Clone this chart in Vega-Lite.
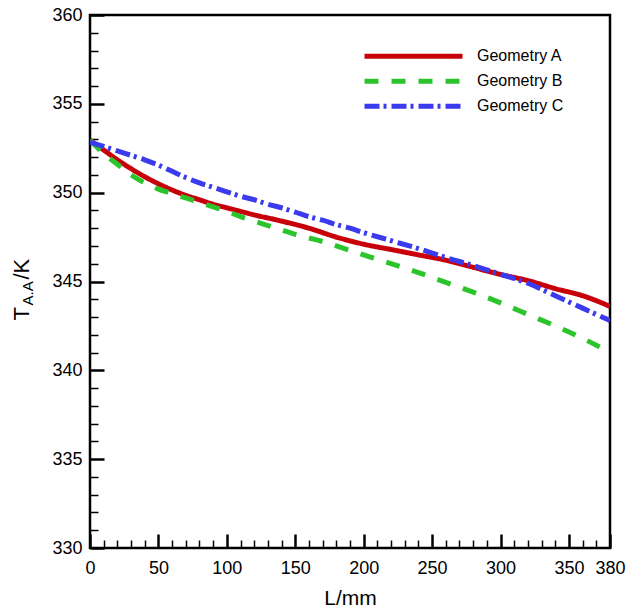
{
  "$schema": "https://vega.github.io/schema/vega-lite/v6.json",
  "width": 520,
  "height": 533,
  "autosize": "none",
  "padding": {"left": 90, "top": 15, "right": 18, "bottom": 64},
  "background": "white",
  "config": {
    "font": "Liberation Sans",
    "view": {"stroke": "black", "strokeWidth": 2.5},
    "axis": {"grid": false, "domain": false, "labelColor": "black", "titleColor": "black", "tickColor": "black", "titleFontWeight": "normal", "labelFlush": false},
    "legend": {"labelFontSize": 16, "labelColor": "black", "labelFont": "Liberation Sans"}
  },
  "datasets": {
    "temps": [
      {"L": 0, "T": 352.95, "geometry": "Geometry A"},
      {"L": 10, "T": 352.4, "geometry": "Geometry A"},
      {"L": 20, "T": 351.85, "geometry": "Geometry A"},
      {"L": 30, "T": 351.35, "geometry": "Geometry A"},
      {"L": 40, "T": 350.9, "geometry": "Geometry A"},
      {"L": 50, "T": 350.5, "geometry": "Geometry A"},
      {"L": 60, "T": 350.15, "geometry": "Geometry A"},
      {"L": 70, "T": 349.85, "geometry": "Geometry A"},
      {"L": 80, "T": 349.6, "geometry": "Geometry A"},
      {"L": 90, "T": 349.35, "geometry": "Geometry A"},
      {"L": 100, "T": 349.15, "geometry": "Geometry A"},
      {"L": 120, "T": 348.75, "geometry": "Geometry A"},
      {"L": 140, "T": 348.4, "geometry": "Geometry A"},
      {"L": 160, "T": 348.0, "geometry": "Geometry A"},
      {"L": 180, "T": 347.5, "geometry": "Geometry A"},
      {"L": 200, "T": 347.1, "geometry": "Geometry A"},
      {"L": 220, "T": 346.8, "geometry": "Geometry A"},
      {"L": 240, "T": 346.5, "geometry": "Geometry A"},
      {"L": 260, "T": 346.2, "geometry": "Geometry A"},
      {"L": 280, "T": 345.8, "geometry": "Geometry A"},
      {"L": 300, "T": 345.4, "geometry": "Geometry A"},
      {"L": 320, "T": 345.05, "geometry": "Geometry A"},
      {"L": 340, "T": 344.6, "geometry": "Geometry A"},
      {"L": 360, "T": 344.2, "geometry": "Geometry A"},
      {"L": 380, "T": 343.6, "geometry": "Geometry A"},

      {"L": 0, "T": 352.95, "geometry": "Geometry B"},
      {"L": 10, "T": 352.2, "geometry": "Geometry B"},
      {"L": 20, "T": 351.6, "geometry": "Geometry B"},
      {"L": 30, "T": 351.0, "geometry": "Geometry B"},
      {"L": 40, "T": 350.55, "geometry": "Geometry B"},
      {"L": 50, "T": 350.2, "geometry": "Geometry B"},
      {"L": 60, "T": 349.95, "geometry": "Geometry B"},
      {"L": 70, "T": 349.7, "geometry": "Geometry B"},
      {"L": 80, "T": 349.45, "geometry": "Geometry B"},
      {"L": 90, "T": 349.2, "geometry": "Geometry B"},
      {"L": 100, "T": 348.95, "geometry": "Geometry B"},
      {"L": 110, "T": 348.65, "geometry": "Geometry B"},
      {"L": 120, "T": 348.4, "geometry": "Geometry B"},
      {"L": 130, "T": 348.15, "geometry": "Geometry B"},
      {"L": 140, "T": 347.9, "geometry": "Geometry B"},
      {"L": 150, "T": 347.65, "geometry": "Geometry B"},
      {"L": 160, "T": 347.45, "geometry": "Geometry B"},
      {"L": 170, "T": 347.25, "geometry": "Geometry B"},
      {"L": 180, "T": 347.0, "geometry": "Geometry B"},
      {"L": 190, "T": 346.75, "geometry": "Geometry B"},
      {"L": 200, "T": 346.5, "geometry": "Geometry B"},
      {"L": 220, "T": 346.0, "geometry": "Geometry B"},
      {"L": 240, "T": 345.5, "geometry": "Geometry B"},
      {"L": 260, "T": 344.95, "geometry": "Geometry B"},
      {"L": 280, "T": 344.4, "geometry": "Geometry B"},
      {"L": 300, "T": 343.8, "geometry": "Geometry B"},
      {"L": 320, "T": 343.15, "geometry": "Geometry B"},
      {"L": 340, "T": 342.5, "geometry": "Geometry B"},
      {"L": 360, "T": 341.8, "geometry": "Geometry B"},
      {"L": 380, "T": 341.0, "geometry": "Geometry B"},

      {"L": 0, "T": 352.85, "geometry": "Geometry C"},
      {"L": 10, "T": 352.6, "geometry": "Geometry C"},
      {"L": 20, "T": 352.35, "geometry": "Geometry C"},
      {"L": 30, "T": 352.1, "geometry": "Geometry C"},
      {"L": 40, "T": 351.85, "geometry": "Geometry C"},
      {"L": 50, "T": 351.55, "geometry": "Geometry C"},
      {"L": 60, "T": 351.2, "geometry": "Geometry C"},
      {"L": 70, "T": 350.85, "geometry": "Geometry C"},
      {"L": 80, "T": 350.55, "geometry": "Geometry C"},
      {"L": 90, "T": 350.3, "geometry": "Geometry C"},
      {"L": 100, "T": 350.05, "geometry": "Geometry C"},
      {"L": 110, "T": 349.8, "geometry": "Geometry C"},
      {"L": 120, "T": 349.6, "geometry": "Geometry C"},
      {"L": 130, "T": 349.35, "geometry": "Geometry C"},
      {"L": 140, "T": 349.15, "geometry": "Geometry C"},
      {"L": 150, "T": 348.9, "geometry": "Geometry C"},
      {"L": 160, "T": 348.65, "geometry": "Geometry C"},
      {"L": 170, "T": 348.45, "geometry": "Geometry C"},
      {"L": 180, "T": 348.2, "geometry": "Geometry C"},
      {"L": 190, "T": 348.0, "geometry": "Geometry C"},
      {"L": 200, "T": 347.75, "geometry": "Geometry C"},
      {"L": 220, "T": 347.3, "geometry": "Geometry C"},
      {"L": 240, "T": 346.85, "geometry": "Geometry C"},
      {"L": 260, "T": 346.35, "geometry": "Geometry C"},
      {"L": 280, "T": 345.9, "geometry": "Geometry C"},
      {"L": 300, "T": 345.4, "geometry": "Geometry C"},
      {"L": 320, "T": 344.9, "geometry": "Geometry C"},
      {"L": 340, "T": 344.2, "geometry": "Geometry C"},
      {"L": 360, "T": 343.5, "geometry": "Geometry C"},
      {"L": 380, "T": 342.8, "geometry": "Geometry C"}
    ]
  },
  "data": {"name": "temps"},
  "resolve": {"axis": {"x": "independent", "y": "independent"}},
  "layer": [
    {
      "transform": [{"filter": "datum.geometry === 'Geometry A'"}],
      "mark": {"type": "line", "strokeWidth": 5, "strokeCap": "butt", "strokeJoin": "round", "interpolate": "monotone", "clip": true},
      "encoding": {
        "x": {
          "field": "L", "type": "quantitative",
          "scale": {"domain": [0, 380], "nice": false, "zero": false},
          "axis": {"orient": "bottom", "values": [0, 50, 100, 150, 200, 250, 300, 350, 380], "tickSize": -14, "tickWidth": 2.5, "labelFontSize": 18, "labelPadding": 25, "title": "L/mm", "titleFontSize": 21, "titlePadding": 10}
        },
        "y": {
          "field": "T", "type": "quantitative",
          "scale": {"domain": [330, 360], "nice": false, "zero": false},
          "axis": {"orient": "left", "values": [330, 335, 340, 345, 350, 355, 360], "tickSize": -14, "tickWidth": 2.5, "labelFontSize": 18, "labelPadding": 22, "title": "T", "titleFontSize": 22, "titleAngle": -90, "titleAlign": "left", "titleBaseline": "alphabetic", "titleX": -62, "titleY": 305}
        },
        "color": {
          "field": "geometry", "type": "nominal",
          "scale": {"domain": ["Geometry A", "Geometry B", "Geometry C"], "range": ["#c8000a", "#2cc42c", "#3a3aef"]},
          "legend": {"title": null, "orient": "none", "legendX": 272, "legendY": 29, "padding": 0, "symbolType": "stroke", "symbolSize": 9604, "symbolStrokeWidth": 5, "labelOffset": 12, "rowPadding": 0, "clipHeight": 24.5}
        },
        "strokeDash": {
          "field": "geometry", "type": "nominal",
          "scale": {"domain": ["Geometry A", "Geometry B", "Geometry C"], "range": [[1, 0], [14, 13], [15, 4, 3, 5]]},
          "legend": {"title": null, "orient": "none", "legendX": 272, "legendY": 29, "padding": 0, "symbolType": "stroke", "symbolSize": 9604, "symbolStrokeWidth": 5, "labelOffset": 12, "rowPadding": 0, "clipHeight": 24.5}
        }
      }
    },
    {
      "transform": [{"filter": "datum.geometry === 'Geometry B'"}],
      "mark": {"type": "line", "strokeWidth": 5, "strokeCap": "butt", "strokeJoin": "round", "interpolate": "monotone", "clip": true},
      "encoding": {
        "x": {
          "field": "L", "type": "quantitative",
          "scale": {"domain": [0, 380], "nice": false, "zero": false},
          "axis": {"orient": "bottom", "values": [10, 20, 30, 40, 60, 70, 80, 90, 110, 120, 130, 140, 160, 170, 180, 190, 210, 220, 230, 240, 260, 270, 280, 290, 310, 320, 330, 340, 360, 370], "tickSize": -8, "tickWidth": 1.5, "labels": false, "title": null}
        },
        "y": {
          "field": "T", "type": "quantitative",
          "scale": {"domain": [330, 360], "nice": false, "zero": false},
          "axis": {"orient": "left", "values": [331, 332, 333, 334, 336, 337, 338, 339, 341, 342, 343, 344, 346, 347, 348, 349, 351, 352, 353, 354, 356, 357, 358, 359], "tickSize": -8, "tickWidth": 1.5, "labels": false, "title": "A.A", "titleFontSize": 15, "titleAngle": -90, "titleAlign": "left", "titleBaseline": "alphabetic", "titleX": -58, "titleY": 290}
        },
        "color": {"field": "geometry", "type": "nominal"},
        "strokeDash": {"field": "geometry", "type": "nominal"}
      }
    },
    {
      "transform": [{"filter": "datum.geometry === 'Geometry C'"}],
      "mark": {"type": "line", "strokeWidth": 5, "strokeCap": "butt", "strokeJoin": "round", "interpolate": "monotone", "clip": true},
      "encoding": {
        "x": {
          "field": "L", "type": "quantitative",
          "scale": {"domain": [0, 380], "nice": false, "zero": false},
          "axis": null
        },
        "y": {
          "field": "T", "type": "quantitative",
          "scale": {"domain": [330, 360], "nice": false, "zero": false},
          "axis": {"orient": "left", "values": [], "ticks": false, "labels": false, "title": "/K", "titleFontSize": 22, "titleAngle": -90, "titleAlign": "left", "titleBaseline": "alphabetic", "titleX": -62, "titleY": 264}
        },
        "color": {"field": "geometry", "type": "nominal"},
        "strokeDash": {"field": "geometry", "type": "nominal"}
      }
    }
  ]
}
